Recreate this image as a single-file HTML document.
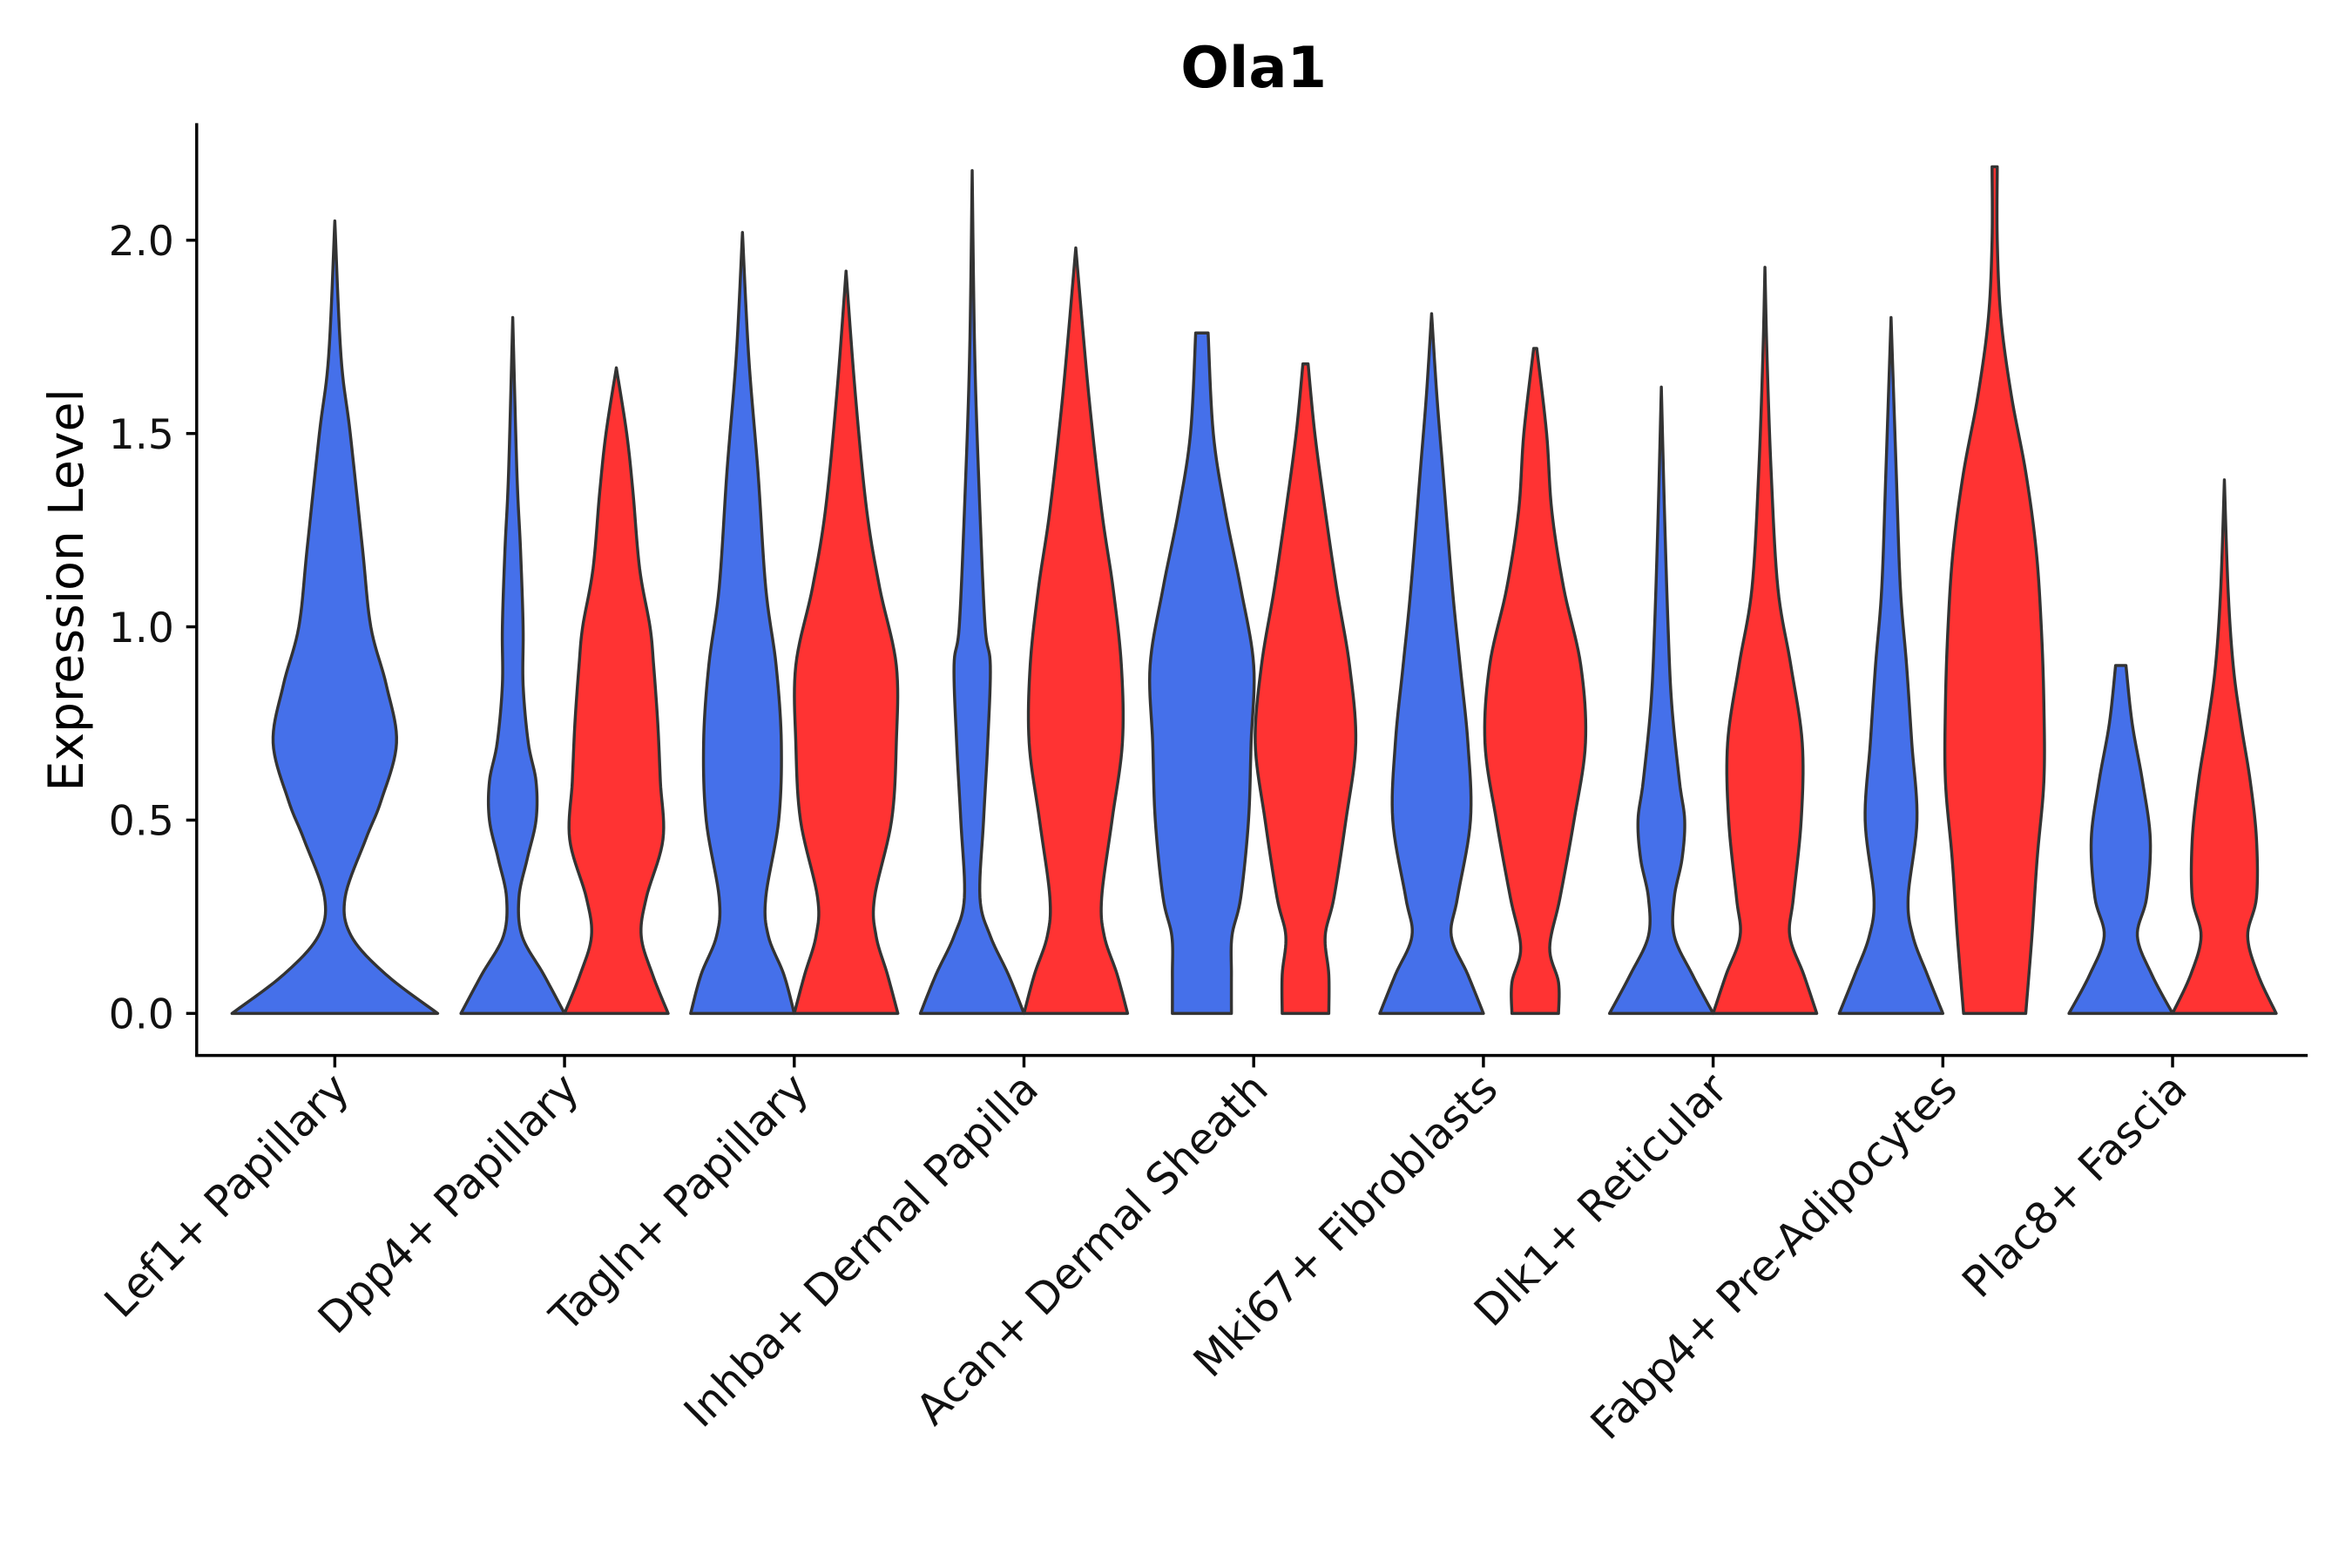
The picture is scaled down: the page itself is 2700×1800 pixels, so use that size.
<!DOCTYPE html>
<html><head><meta charset="utf-8"><style>html,body{margin:0;padding:0;background:#fff}svg{display:block}</style></head>
<body>
<svg id="chart" width="2700" height="1800" viewBox="0 0 1566.5 1044.4" preserveAspectRatio="none" xmlns="http://www.w3.org/2000/svg" font-family="DejaVu Sans, Liberation Sans, sans-serif">
<rect width="1566.5" height="1044.4" fill="#fff"/>
<text x="835" y="58" font-size="38" font-weight="bold" text-anchor="middle">Ola1</text>
<text transform="translate(55,393) rotate(-90)" font-size="32" text-anchor="middle">Expression Level</text>
<g id="violins"></g>
<g id="axes"></g>
</svg>
<script>
const categories = ["Lef1+ Papillary","Dpp4+ Papillary","Tagln+ Papillary","Inhba+ Dermal Papilla","Acan+ Dermal Sheath","Mki67+ Fibroblasts","Dlk1+ Reticular","Fabp4+ Pre-Adipocytes","Plac8+ Fascia"];
const yTicks = [0, 0.5, 1.0, 1.5, 2.0];
const yTickLabels = ["0.0","0.5","1.0","1.5","2.0"];
// profiles: [value, relative density width]
const blueProfiles = [
 [[0,1],[0.1,0.5],[0.2,0.16],[0.3,0.1],[0.45,0.3],[0.55,0.45],[0.7,0.6],[0.85,0.5],[1.0,0.35],[1.2,0.27],[1.5,0.15],[1.7,0.06],[2.05,0]],
 [[0,1],[0.1,0.6],[0.2,0.18],[0.3,0.12],[0.4,0.28],[0.5,0.45],[0.6,0.45],[0.7,0.3],[0.85,0.2],[1.0,0.2],[1.2,0.15],[1.4,0.08],[1.8,0]],
 [[0,1],[0.1,0.8],[0.2,0.5],[0.3,0.45],[0.5,0.7],[0.7,0.75],[0.9,0.65],[1.1,0.45],[1.4,0.3],[1.7,0.12],[2.02,0]],
 [[0,1],[0.1,0.7],[0.2,0.35],[0.3,0.15],[0.5,0.22],[0.7,0.3],[0.9,0.35],[1.0,0.25],[1.3,0.15],[1.7,0.05],[2.18,0]],
 [[0,0.57],[0.1,0.57],[0.2,0.58],[0.3,0.75],[0.5,0.9],[0.7,0.95],[0.9,1.0],[1.1,0.75],[1.3,0.45],[1.5,0.22],[1.76,0.12]],
 [[0,1],[0.1,0.7],[0.2,0.38],[0.3,0.5],[0.5,0.75],[0.7,0.7],[0.9,0.55],[1.1,0.4],[1.4,0.22],[1.6,0.1],[1.81,0]],
 [[0,1],[0.1,0.6],[0.2,0.25],[0.3,0.25],[0.4,0.4],[0.5,0.45],[0.6,0.35],[0.8,0.2],[1.0,0.13],[1.3,0.06],[1.62,0]],
 [[0,1],[0.1,0.7],[0.2,0.42],[0.3,0.33],[0.5,0.5],[0.7,0.4],[0.9,0.3],[1.1,0.18],[1.4,0.1],[1.8,0]],
 [[0,1],[0.1,0.6],[0.2,0.32],[0.3,0.5],[0.45,0.57],[0.6,0.42],[0.75,0.22],[0.9,0.1]]
];
const redProfiles = [
 null,
 [[0,1],[0.1,0.7],[0.2,0.48],[0.3,0.58],[0.45,0.9],[0.6,0.85],[0.75,0.8],[0.9,0.72],[1.0,0.65],[1.15,0.45],[1.35,0.32],[1.5,0.2],[1.67,0]],
 [[0,1],[0.1,0.8],[0.2,0.58],[0.3,0.55],[0.5,0.88],[0.7,0.97],[0.9,0.97],[1.1,0.65],[1.3,0.4],[1.6,0.18],[1.92,0]],
 [[0,1],[0.1,0.8],[0.2,0.55],[0.3,0.5],[0.5,0.7],[0.7,0.9],[0.9,0.88],[1.1,0.72],[1.3,0.5],[1.6,0.25],[1.98,0]],
 [[0,0.45],[0.1,0.45],[0.2,0.38],[0.3,0.55],[0.5,0.78],[0.7,0.97],[0.9,0.85],[1.1,0.6],[1.3,0.38],[1.5,0.18],[1.68,0.05]],
 [[0,0.45],[0.08,0.45],[0.17,0.28],[0.3,0.48],[0.5,0.75],[0.7,0.97],[0.9,0.88],[1.1,0.55],[1.3,0.32],[1.5,0.22],[1.72,0.03]],
 [[0,1],[0.1,0.75],[0.2,0.48],[0.3,0.55],[0.5,0.7],[0.7,0.72],[0.9,0.5],[1.1,0.25],[1.4,0.12],[1.7,0.04],[1.93,0]],
 [[0,0.6],[0.2,0.72],[0.4,0.82],[0.6,0.95],[0.8,0.95],[1.0,0.9],[1.2,0.8],[1.4,0.6],[1.6,0.32],[1.8,0.12],[2.0,0.05],[2.19,0.05]],
 [[0,1],[0.1,0.65],[0.2,0.45],[0.3,0.62],[0.45,0.62],[0.6,0.5],[0.75,0.32],[0.9,0.17],[1.1,0.07],[1.38,0]]
];
const NS="http://www.w3.org/2000/svg";
const X0=131, X1=1537, Ytop=82, Yaxis=703;
const catStep=153, firstCat=223;
function xScale(i){return firstCat+i*catStep;}
function yScale(v){return 675 - v*257.5;}
function mk(tag,attrs,parent){const e=document.createElementNS(NS,tag);for(const k in attrs)e.setAttribute(k,attrs[k]);parent.appendChild(e);return e;}
function sample(prof){
  const pts=[];
  for(let i=0;i<prof.length-1;i++){
    const p0=prof[Math.max(0,i-1)],p1=prof[i],p2=prof[i+1],p3=prof[Math.min(prof.length-1,i+2)];
    for(let t=0;t<1;t+=0.1){
      const t2=t*t,t3=t2*t;
      const f=(a,b,c,d)=>0.5*((2*b)+(-a+c)*t+(2*a-5*b+4*c-d)*t2+(-a+3*b-3*c+d)*t3);
      pts.push([f(p0[0],p1[0],p2[0],p3[0]),Math.max(0,f(p0[1],p1[1],p2[1],p3[1]))]);
    }
  }
  pts.push(prof[prof.length-1]);
  return pts;
}
function violin(prof,cx,hw,color,name){
  const pts=sample(prof);
  let d="";
  pts.forEach((p,i)=>{d+=(i?"L":"M")+(cx-p[1]*hw).toFixed(2)+","+yScale(p[0]).toFixed(2);});
  for(let i=pts.length-1;i>=0;i--){const p=pts[i];d+="L"+(cx+p[1]*hw).toFixed(2)+","+yScale(p[0]).toFixed(2);}
  d+="Z";
  const el=mk("path",{d:d,fill:color,stroke:"#333",'stroke-width':2,'stroke-linejoin':'round'},document.getElementById("violins"));
  
  
}
categories.forEach((c,i)=>{
  const cx=xScale(i);
  if(!redProfiles[i]){violin(blueProfiles[i],cx,68.5,"#4570EA","violin-blue-"+i);}
  else{
    violin(blueProfiles[i],cx-34.5,34.5,"#4570EA","violin-blue-"+i);
    violin(redProfiles[i],cx+34.5,34.5,"#FF3333","violin-red-"+i);
  }
});
const ax=document.getElementById("axes");
const yl=mk("line",{x1:X0,y1:Ytop,x2:X0,y2:Yaxis,stroke:"#000",'stroke-width':2},ax);


const xl=mk("line",{x1:X0-1,y1:Yaxis,x2:X1,y2:Yaxis,stroke:"#000",'stroke-width':2},ax);


yTicks.forEach((v,i)=>{
  const y=yScale(v);
  const t=mk("line",{x1:X0-7,y1:y,x2:X0,y2:y,stroke:"#000",'stroke-width':2},ax);
  
  
  const tx=mk("text",{x:X0-15,y:y+10,'font-size':27.5,'text-anchor':'end',fill:'#111'},ax);
  tx.textContent=yTickLabels[i];
  
  
});
categories.forEach((c,i)=>{
  const x=xScale(i);
  const t=mk("line",{x1:x,y1:Yaxis,x2:x,y2:Yaxis+8,stroke:"#000",'stroke-width':2},ax);
  
  
  const tx=mk("text",{transform:`translate(${x+11},${Yaxis+24}) rotate(-45)`,'font-size':28.5,'text-anchor':'end',fill:'#111'},ax);
  tx.textContent=c;
  
  
});
</script>
</body></html>
